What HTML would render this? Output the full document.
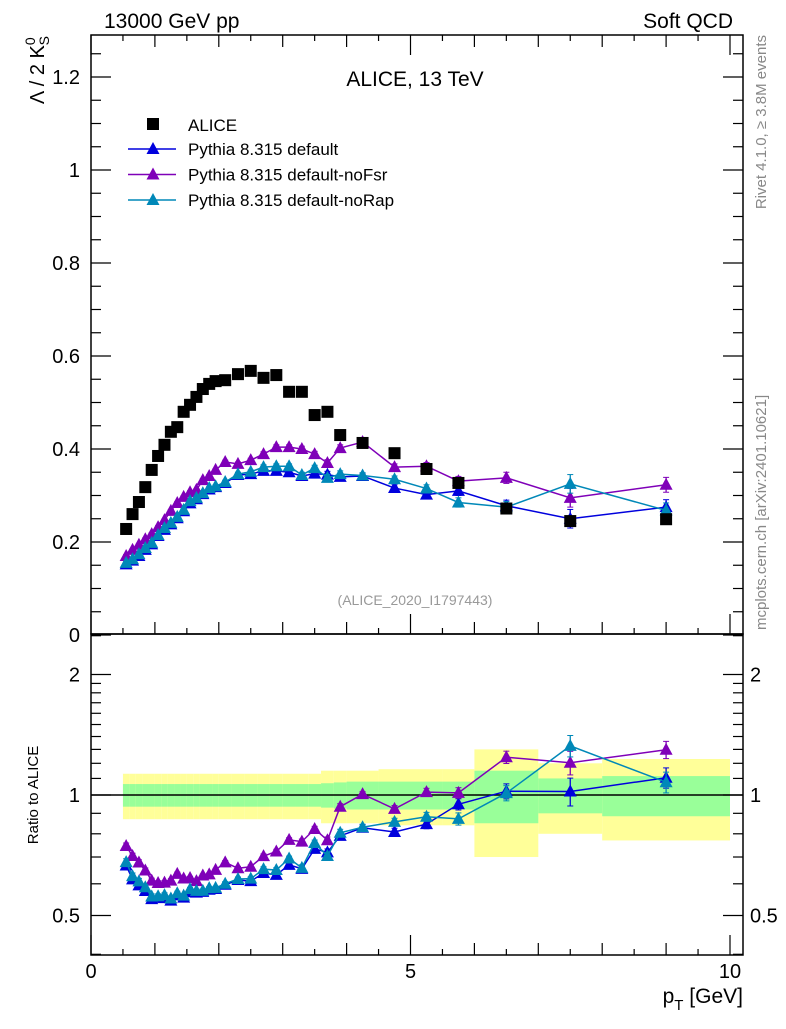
<!DOCTYPE html>
<html><head><meta charset="utf-8"><style>
body{margin:0;background:#fff}
svg text{font-family:"Liberation Sans",sans-serif}
</style></head><body>
<svg id="c" width="786" height="1024" xmlns="http://www.w3.org/2000/svg"></svg>
<script>
const pT=[0.55,0.65,0.75,0.85,0.95,1.05,1.15,1.25,1.35,1.45,1.55,1.65,1.75,1.85,1.95,2.1,2.3,2.5,2.7,2.9,3.1,3.3,3.5,3.7,3.9,4.25,4.75,5.25,5.75,6.5,7.5,9];
const binLo=[0.5,0.6,0.7,0.8,0.9,1.0,1.1,1.2,1.3,1.4,1.5,1.6,1.7,1.8,1.9,2.0,2.2,2.4,2.6,2.8,3.0,3.2,3.4,3.6,3.8,4.0,4.5,5.0,5.5,6,7,8];
const binHi=[0.6,0.7,0.8,0.9,1.0,1.1,1.2,1.3,1.4,1.5,1.6,1.7,1.8,1.9,2.0,2.2,2.4,2.6,2.8,3.0,3.2,3.4,3.6,3.8,4.0,4.5,5.0,5.5,6,7,8,10];
const alice=[0.228,0.260,0.286,0.318,0.355,0.385,0.409,0.437,0.447,0.480,0.495,0.512,0.529,0.540,0.546,0.548,0.561,0.568,0.553,0.559,0.523,0.523,0.473,0.480,0.430,0.413,0.391,0.357,0.327,0.272,0.245,0.249];
const statRel=[0.065,0.065,0.065,0.065,0.065,0.065,0.065,0.065,0.065,0.065,0.065,0.065,0.065,0.065,0.065,0.065,0.065,0.065,0.065,0.065,0.065,0.065,0.065,0.07,0.075,0.08,0.08,0.08,0.08,0.15,0.10,0.115];
const totRel=[0.13,0.13,0.13,0.13,0.13,0.13,0.13,0.13,0.13,0.13,0.13,0.13,0.13,0.13,0.13,0.13,0.13,0.13,0.13,0.13,0.13,0.13,0.13,0.15,0.15,0.15,0.16,0.16,0.16,0.30,0.20,0.23];
const pyDefault=[0.152,0.160,0.170,0.183,0.195,0.213,0.226,0.238,0.251,0.266,0.283,0.292,0.303,0.313,0.318,0.327,0.344,0.346,0.353,0.353,0.350,0.342,0.347,0.345,0.340,0.342,0.316,0.302,0.310,0.278,0.250,0.275];
const pyNoFsr=[0.170,0.183,0.194,0.206,0.217,0.232,0.247,0.267,0.284,0.297,0.307,0.312,0.333,0.342,0.355,0.372,0.368,0.376,0.389,0.404,0.404,0.400,0.389,0.370,0.402,0.415,0.361,0.363,0.331,0.338,0.295,0.323];
const pyNoRap=[0.155,0.163,0.174,0.187,0.198,0.215,0.230,0.241,0.254,0.269,0.288,0.295,0.305,0.316,0.320,0.329,0.346,0.351,0.361,0.363,0.363,0.344,0.359,0.338,0.346,0.343,0.335,0.315,0.285,0.275,0.325,0.268];
const mcErr=[0.003,0.003,0.003,0.003,0.003,0.003,0.003,0.003,0.003,0.003,0.003,0.003,0.003,0.003,0.003,0.004,0.004,0.004,0.005,0.005,0.005,0.006,0.006,0.007,0.007,0.006,0.007,0.008,0.01,0.012,0.02,0.016];
const yTicks=[0,0.2,0.4,0.6,0.8,1,1.2];
const yTickLabels=["0","0.2","0.4","0.6","0.8","1","1.2"];

const NS="http://www.w3.org/2000/svg";
const svg=document.getElementById('c');
function el(t,a,p){const e=document.createElementNS(NS,t);for(const k in a)e.setAttribute(k,a[k]);(p||svg).appendChild(e);return e;}
const X=v=>91+v*63.9;
const Y=v=>635-v*465;
const R=r=>795-120.5*Math.log2(r);
const L=91,Rt=743,T=35,M=634,B=955;

const gb=el('g',{});


for(let i=0;i<pT.length;i++){
  const y1=el('rect',{x:X(binLo[i]),y:R(1+totRel[i]),width:X(binHi[i])-X(binLo[i]),height:R(1-totRel[i])-R(1+totRel[i]),fill:'#ffff99'},gb);
  
  
}
for(let i=0;i<pT.length;i++){
  const g1=el('rect',{x:X(binLo[i]),y:R(1+statRel[i]),width:X(binHi[i])-X(binLo[i]),height:R(1-statRel[i])-R(1+statRel[i]),fill:'#99ff99'},gb);
  
  
}
el('line',{x1:L,x2:Rt,y1:R(1),y2:R(1),stroke:'#000','stroke-width':1.5});

const f1=el('rect',{x:L,y:T,width:Rt-L,height:M-T,fill:'none',stroke:'#000','stroke-width':1.5});


const f2=el('rect',{x:L,y:M,width:Rt-L,height:B-M,fill:'none',stroke:'#000','stroke-width':1.5});



for(let v=0;v<=1.3;v+=0.05){const y=Y(v);if(y<T)break;const maj=Math.abs(v/0.2-Math.round(v/0.2))<1e-6;const l=maj?20:10;
 el('line',{x1:L,x2:L+l,y1:y,y2:y,stroke:'#000','stroke-width':1.2});el('line',{x1:Rt,x2:Rt-l,y1:y,y2:y,stroke:'#000','stroke-width':1.2});}
yTicks.forEach((v,i)=>{const t=el('text',{x:80,y:Y(v)+7,'text-anchor':'end','font-size':20});t.textContent=yTickLabels[i];
 });
for(let v=0;v<=10.01;v+=0.5){const x=X(v);const l=Math.abs(v%5)<1e-6?20:(Math.abs(v%1)<1e-6?12:6);
 [[M,-1],[B,-1],[T,1]].forEach(([y0,d])=>el('line',{x1:x,x2:x,y1:y0,y2:y0+d*l,stroke:'#000','stroke-width':1.2}));}
[0,5,10].forEach(v=>{const t=el('text',{x:X(v),y:978,'text-anchor':'middle','font-size':20});t.textContent=v;
 });
[0.4,0.5,0.6,0.7,0.8,0.9,1,1.1,1.2,1.3,1.4,1.5,1.6,1.7,1.8,1.9,2,2.5].forEach(r=>{const y=R(r);if(y>B||y<M)return;const maj=[0.5,1,2].includes(r);const l=maj?20:10;
 el('line',{x1:L,x2:L+l,y1:y,y2:y,stroke:'#000','stroke-width':1.2});el('line',{x1:Rt,x2:Rt-l,y1:y,y2:y,stroke:'#000','stroke-width':1.2});});
[[2,"2"],[1,"1"],[0.5,"0.5"]].forEach(([r,s])=>{
 let t=el('text',{x:80,y:R(r)+7,'text-anchor':'end','font-size':20});t.textContent=s;
 
 t=el('text',{x:750,y:R(r)+7,'text-anchor':'start','font-size':20});t.textContent=s;
 });

const series=[
 {name:'pythia-default',vals:pyDefault,c:'#0000dd'},
 {name:'pythia-nofsr',vals:pyNoFsr,c:'#7f00b8'},
 {name:'pythia-norap',vals:pyNoRap,c:'#0088b8'}];
function tri(g,x,y,c){el('polygon',{points:`${x},${y-7} ${x-6.5},${y+5} ${x+6.5},${y+5}`,fill:c},g);}
series.forEach(s=>{
 const g=el('g',{});
 
 
 el('polyline',{points:pT.map((x,i)=>X(x)+','+Y(s.vals[i])).join(' '),fill:'none',stroke:s.c,'stroke-width':1.5},g);
 const gr=el('g',{});
 
 
 el('polyline',{points:pT.map((x,i)=>X(x)+','+R(s.vals[i]/alice[i])).join(' '),fill:'none',stroke:s.c,'stroke-width':1.5},gr);
 pT.forEach((x,i)=>{const v=s.vals[i],e=mcErr[i];
  el('line',{x1:X(x),x2:X(x),y1:Y(v-e),y2:Y(v+e),stroke:s.c,'stroke-width':1.3},g);
  el('line',{x1:X(x)-3,x2:X(x)+3,y1:Y(v+e),y2:Y(v+e),stroke:s.c},g);el('line',{x1:X(x)-3,x2:X(x)+3,y1:Y(v-e),y2:Y(v-e),stroke:s.c},g);
  tri(g,X(x),Y(v),s.c);
  const r=v/alice[i],re=e/alice[i];
  el('line',{x1:X(x),x2:X(x),y1:R(r-re),y2:R(r+re),stroke:s.c,'stroke-width':1.3},gr);
  el('line',{x1:X(x)-3,x2:X(x)+3,y1:R(r+re),y2:R(r+re),stroke:s.c},gr);el('line',{x1:X(x)-3,x2:X(x)+3,y1:R(r-re),y2:R(r-re),stroke:s.c},gr);
  tri(gr,X(x),R(r),s.c);});
});
const gd=el('g',{});


pT.forEach((x,i)=>{el('rect',{x:X(x)-6,y:Y(alice[i])-6,width:12,height:12,fill:'#000'},gd);});

const lg=el('g',{});


el('rect',{x:147,y:118,width:12,height:12,fill:'#000'},lg);
let t=el('text',{x:188,y:131,'font-size':17},lg);t.textContent='ALICE';
[['Pythia 8.315 default','#0000dd'],['Pythia 8.315 default-noFsr','#7f00b8'],['Pythia 8.315 default-noRap','#0088b8']].forEach(([s,c],i)=>{
 const y=149+i*25.5;el('line',{x1:128,x2:176,y1:y,y2:y,stroke:c,'stroke-width':1.5},lg);tri(lg,153,y,c);
 const tt=el('text',{x:188,y:y+6,'font-size':17},lg);tt.textContent=s;});

function txt(s,a,name){const e=el('text',a);e.textContent=s;return e;}
txt('ALICE, 13 TeV',{x:415,y:86,'text-anchor':'middle','font-size':21},'plot-title');
txt('13000 GeV pp',{x:104,y:28,'font-size':21},'beam-label');
txt('Soft QCD',{x:733,y:28,'text-anchor':'end','font-size':21},'process-label');
txt('(ALICE_2020_I1797443)',{x:415,y:605,'text-anchor':'middle','font-size':14,fill:'#999'},'analysis-id');
txt('Rivet 4.1.0, \u2265 3.8M events',{x:0,y:0,'font-size':15,fill:'#888',transform:'translate(766,35) rotate(-90)','text-anchor':'end'},'rivet-label');
txt('mcplots.cern.ch [arXiv:2401.10621]',{x:0,y:0,'font-size':15,fill:'#888',transform:'translate(766,630) rotate(-90)'},'mcplots-label');
const yl=el('text',{x:0,y:0,'font-size':20,transform:'translate(44,36) rotate(-90)','text-anchor':'end'});
yl.innerHTML='\u039B / 2 K<tspan dy="-9" font-size="14">0</tspan><tspan dy="14" dx="-8" font-size="14">S</tspan>';


txt('Ratio to ALICE',{x:0,y:0,'font-size':15,transform:'translate(38,795) rotate(-90)','text-anchor':'middle'},'ratio-axis-title');
const xl=el('text',{x:743,y:1003,'font-size':21,'text-anchor':'end'});
xl.innerHTML='p<tspan dy="7" font-size="15">T</tspan><tspan dy="-7"> [GeV]</tspan>';


</script>
</body></html>
